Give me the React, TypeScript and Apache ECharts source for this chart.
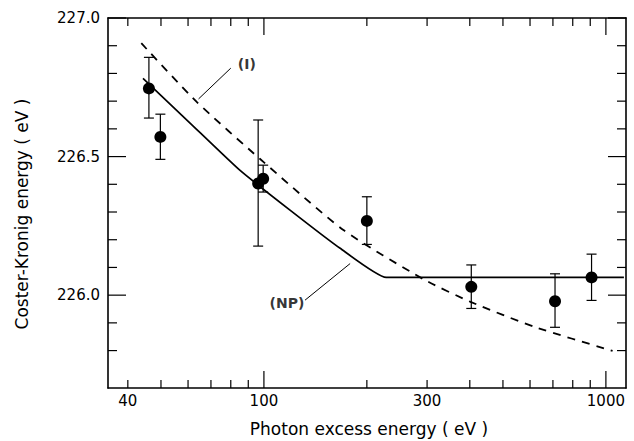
import React, { useEffect, useRef } from "react";
import * as echarts from "echarts";

// ---- axis ranges ----
const X_MIN = 35;
const X_MAX = 1145;
const Y_MIN = 225.665;
const Y_MAX = 227.0;

// ---- measured points (photon excess energy in eV, Coster-Kronig energy in eV) ----
const photonEnergy = [46.1, 49.8, 96.2, 99.5, 200, 404, 710, 908];
const ckEnergy = [226.746, 226.571, 226.403, 226.42, 226.268, 226.03, 225.978, 226.064];
const errLow = [226.639, 226.49, 226.177, 226.372, 226.183, 225.952, 225.884, 225.981];
const errHigh = [226.858, 226.653, 226.632, 226.469, 226.355, 226.109, 226.077, 226.148];

// ---- curve (NP), solid ----
const npX = [44.3, 60.7, 85.0, 119.2, 167.1, 227.9, 1129];
const npY = [226.782, 226.622, 226.451, 226.307, 226.169, 226.064, 226.064];

// ---- curve (I), dashed ----
const iX = [43.8, 63.5, 97.3, 170.8, 293.2, 401.9, 616.3, 1046];
const iY = [226.909, 226.698, 226.492, 226.235, 226.057, 225.976, 225.886, 225.799];

// ---- annotations ----
const annotationText = ["(I)", "(NP)"];
const annotationX = [89.1, 116.8];
const annotationY = [226.834, 225.971];
const arrowI = [[80.0, 226.819], [64.4, 226.708]];
const arrowNP = [[131.9, 225.982], [178.7, 226.114]];

// ---- ticks and labels ----
const xLabelValues = [40, 100, 300, 1000];
const xMajorTicks = [100, 1000];
const xMinorTicks = [40, 50, 60, 70, 80, 90, 200, 300, 400, 500, 600, 700, 800, 900];
const yLabelValues = [226.0, 226.5, 227.0];
const yMajorTicks = [226.0, 226.5, 227.0];
const yMinorTicks = [225.8, 225.9, 226.1, 226.2, 226.3, 226.4, 226.6, 226.7, 226.8, 226.9];

const xTitle = "Photon excess energy ( eV )";
const yTitle = "Coster-Kronig energy ( eV )";

const INK = "#000";
const FONT = "DejaVu Sans";
const W = 634;
const H = 441;
const GRID = { left: 108, right: 8, top: 18, bottom: 53 };

export default function App() {
  const ref = useRef<HTMLDivElement>(null);

  useEffect(() => {
    if (!ref.current) return;
    const chart = echarts.init(ref.current, undefined, { renderer: "svg" });
    const lg = (v: number) => Math.log10(v);
    const frameLine = { show: true, lineStyle: { color: INK, width: 1.6 } };

    const plotW = W - GRID.left - GRID.right;
    const plotH = H - GRID.top - GRID.bottom;
    const left = GRID.left;
    const right = W - GRID.right;
    const top = GRID.top;
    const bottom = H - GRID.bottom;

    // linear maps identical to the axes' own (log x, linear y) mappings
    const xPx = (v: number) => left + ((lg(v) - lg(X_MIN)) / (lg(X_MAX) - lg(X_MIN))) * plotW;
    const yPx = (v: number) => bottom - ((v - Y_MIN) / (Y_MAX - Y_MIN)) * plotH;

    const tickEls: any[] = [];
    const seg = (x1: number, y1: number, x2: number, y2: number) =>
      tickEls.push({
        type: "line",
        z: 100,
        silent: true,
        shape: { x1, y1, x2, y2 },
        style: { stroke: INK, lineWidth: 1.2, fill: null },
      });
    const addX = (v: number, len: number) => {
      const x = xPx(v);
      seg(x, bottom, x, bottom - len);
      seg(x, top, x, top + len);
    };
    const addY = (v: number, len: number) => {
      const y = yPx(v);
      seg(left, y, left + len, y);
      seg(right, y, right - len, y);
    };
    xMajorTicks.forEach((v) => addX(v, 17));
    xMinorTicks.forEach((v) => addX(v, 8));
    yMajorTicks.forEach((v) => addY(v, 18));
    yMinorTicks.forEach((v) => addY(v, 9));

    const arrowLine = (pts: number[][]) => ({
      silent: true,
      symbol: ["none", "arrow"],
      symbolSize: [0, 9],
      label: { show: false },
      lineStyle: { color: INK, width: 1, type: "solid" },
      emphasis: { disabled: true },
      data: [[{ coord: pts[0] }, { coord: pts[1] }]],
    });

    chart.setOption({
      animation: false,
      backgroundColor: "#fff",
      grid: { ...GRID, containLabel: false, outerBoundsMode: "none" },
      xAxis: [
        {
          type: "log",
          logBase: 10,
          min: X_MIN,
          max: X_MAX,
          position: "bottom",
          axisLine: { show: false },
          axisTick: { show: false },
          axisLabel: { show: false },
          splitLine: { show: false },
        },
        {
          type: "value",
          position: "bottom",
          min: lg(X_MIN),
          max: lg(X_MAX),
          axisLine: frameLine,
          axisTick: { show: false },
          axisLabel: {
            show: true,
            customValues: xLabelValues.map(lg),
            formatter: (v: number) => String(Math.round(Math.pow(10, v))),
            color: INK,
            fontFamily: FONT,
            fontSize: 15,
            margin: 5,
          },
          splitLine: { show: false },
        },
        {
          type: "value",
          position: "top",
          min: lg(X_MIN),
          max: lg(X_MAX),
          axisLine: frameLine,
          axisTick: { show: false },
          axisLabel: { show: false },
          splitLine: { show: false },
        },
      ],
      yAxis: [
        {
          type: "value",
          position: "left",
          min: Y_MIN,
          max: Y_MAX,
          axisLine: frameLine,
          axisTick: { show: false },
          axisLabel: {
            show: true,
            customValues: yLabelValues,
            formatter: (v: number) => v.toFixed(1),
            color: INK,
            fontFamily: FONT,
            fontSize: 15,
            margin: 8,
          },
          splitLine: { show: false },
        },
        {
          type: "value",
          position: "right",
          min: Y_MIN,
          max: Y_MAX,
          axisLine: frameLine,
          axisTick: { show: false },
          axisLabel: { show: false },
          splitLine: { show: false },
        },
      ],
      series: [
        {
          name: "(NP)",
          type: "line",
          xAxisIndex: 0,
          yAxisIndex: 0,
          data: npX.map((x, i) => [x, npY[i]]),
          showSymbol: false,
          symbol: "none",
          smooth: 0.15,
          lineStyle: { color: INK, width: 1.7 },
          z: 2,
          markLine: arrowLine(arrowNP),
        },
        {
          name: "(I)",
          type: "line",
          xAxisIndex: 0,
          yAxisIndex: 0,
          data: iX.map((x, i) => [x, iY[i]]),
          showSymbol: false,
          symbol: "none",
          smooth: 0.2,
          lineStyle: { color: INK, width: 1.8, type: [8, 7] },
          z: 2,
          markLine: arrowLine(arrowI),
        },
        {
          name: "error",
          type: "custom",
          xAxisIndex: 0,
          yAxisIndex: 0,
          data: photonEnergy.map((x, i) => [x, errLow[i], errHigh[i]]),
          encode: { x: 0, y: [1, 2] },
          z: 3,
          renderItem: (params: any, api: any) => {
            const x = api.value(0);
            const pLo = api.coord([x, api.value(1)]);
            const pHi = api.coord([x, api.value(2)]);
            const w = 5;
            return {
              type: "group",
              children: [
                { type: "line", shape: { x1: pLo[0], y1: pLo[1], x2: pHi[0], y2: pHi[1] }, style: { stroke: INK, lineWidth: 1.2 } },
                { type: "line", shape: { x1: pLo[0] - w, y1: pLo[1], x2: pLo[0] + w, y2: pLo[1] }, style: { stroke: INK, lineWidth: 1.2 } },
                { type: "line", shape: { x1: pHi[0] - w, y1: pHi[1], x2: pHi[0] + w, y2: pHi[1] }, style: { stroke: INK, lineWidth: 1.2 } },
              ],
            };
          },
        },
        {
          name: "data",
          type: "scatter",
          xAxisIndex: 0,
          yAxisIndex: 0,
          data: photonEnergy.map((x, i) => [x, ckEnergy[i]]),
          symbol: "circle",
          symbolSize: 12,
          itemStyle: { color: INK, opacity: 1 },
          z: 4,
        },
        {
          name: "annotations",
          type: "scatter",
          xAxisIndex: 0,
          yAxisIndex: 0,
          data: annotationX.map((x, i) => [x, annotationY[i], annotationText[i]]),
          symbolSize: 1,
          itemStyle: { color: "rgba(0,0,0,0)" },
          silent: true,
          label: {
            show: true,
            position: "inside",
            formatter: (p: any) => p.value[2],
            color: INK,
            fontFamily: FONT,
            fontWeight: "bold",
            fontSize: 14,
          },
          z: 5,
        },
      ],
      graphic: [
        {
          type: "text",
          x: 369,
          y: 429,
          style: {
            text: xTitle,
            fill: INK,
            font: `17px "${FONT}"`,
            align: "center",
            verticalAlign: "middle",
          },
        },
        {
          type: "text",
          x: 22,
          y: 214,
          rotation: Math.PI / 2,
          style: {
            text: yTitle,
            fill: INK,
            font: `17px "${FONT}"`,
            align: "center",
            verticalAlign: "middle",
          },
        },
        ...tickEls,
      ],
    });

    return () => chart.dispose();
  }, []);

  return (
    <div
      ref={ref}
      style={{ position: "absolute", left: 0, top: 0, width: W, height: H }}
    />
  );
}
